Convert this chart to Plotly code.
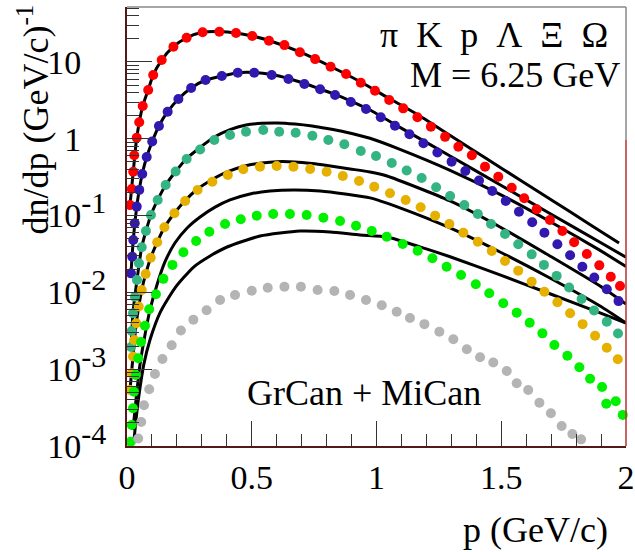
import plotly.graph_objects as go

# ---------------- data (p in GeV/c, dn/dp in (GeV/c)^-1) ----------------
# MiCan points
p_pi = [0.012,0.019,0.025,0.029,0.039,0.049,0.063,0.085,0.105,0.139,0.186,0.239,0.303,0.370,0.437,0.502,0.569,0.631,0.693,0.754,0.816,0.878,0.937,0.994,1.051,1.107,1.164,1.218,1.275,1.328,1.382,1.435,1.488,1.542,1.592,1.642,1.695,1.745,1.792,1.843,1.893,1.939,1.976]
y_pi = [0.137,0.222,0.373,0.610,1.03,1.64,2.67,4.32,6.78,10.6,15.8,20.7,24.4,24.8,23.9,21.8,18.9,16.6,13.4,10.9,8.69,6.98,5.37,4.23,3.20,2.49,1.91,1.44,1.06,0.789,0.610,0.434,0.321,0.231,0.168,0.121,0.0877,0.0630,0.0449,0.0316,0.0225,0.0160,0.0121]

p_K = [0.016,0.021,0.025,0.031,0.039,0.049,0.061,0.079,0.101,0.128,0.163,0.206,0.257,0.315,0.380,0.444,0.510,0.580,0.647,0.711,0.774,0.834,0.897,0.958,1.017,1.074,1.132,1.188,1.244,1.301,1.356,1.411,1.464,1.518,1.571,1.624,1.673,1.725,1.776,1.825,1.873,1.923,1.970]
y_K = [0.0177,0.0292,0.0481,0.0794,0.131,0.216,0.348,0.579,0.922,1.47,2.25,3.30,4.58,5.83,6.58,7.26,7.26,6.78,6.01,5.17,4.41,3.72,3.01,2.44,1.905,1.48,1.145,0.873,0.663,0.504,0.381,0.286,0.209,0.155,0.1125,0.0818,0.0598,0.0423,0.0304,0.0216,0.0156,0.0110,0.0077]

p_p = [0.016,0.019,0.024,0.032,0.040,0.048,0.059,0.076,0.096,0.123,0.155,0.195,0.239,0.293,0.350,0.413,0.477,0.546,0.610,0.676,0.743,0.807,0.871,0.937,0.998,1.061,1.121,1.181,1.239,1.295,1.352,1.406,1.459,1.515,1.568,1.622,1.671,1.722,1.772,1.822,1.872,1.923,1.968]
y_p = [0.00195,0.00314,0.00535,0.00879,0.0145,0.0239,0.0387,0.063,0.102,0.160,0.250,0.375,0.546,0.726,0.964,1.12,1.237,1.30,1.237,1.20,1.097,0.964,0.848,0.694,0.597,0.484,0.386,0.309,0.2335,0.180,0.137,0.105,0.0778,0.0575,0.0423,0.0313,0.0228,0.0164,0.0116,0.0082,0.0058,0.00415,0.00292]

p_L = [0.012,0.019,0.024,0.029,0.037,0.047,0.059,0.075,0.095,0.121,0.150,0.190,0.233,0.283,0.342,0.404,0.466,0.533,0.600,0.667,0.734,0.800,0.865,0.930,0.991,1.054,1.117,1.177,1.235,1.292,1.348,1.406,1.462,1.515,1.568,1.622,1.673,1.725,1.776,1.826,1.876,1.923,1.967]
y_L = [0.000536,0.000885,0.00146,0.0024,0.00396,0.00655,0.01074,0.01738,0.0283,0.0449,0.0705,0.1072,0.155,0.2156,0.276,0.338,0.401,0.434,0.443,0.434,0.405,0.373,0.328,0.2825,0.2377,0.195,0.1596,0.1282,0.0998,0.0778,0.0598,0.0457,0.0346,0.0256,0.0192,0.01377,0.0102,0.00743,0.00535,0.00386,0.00273,0.0019,0.001346]

p_Xi = [0.015,0.019,0.024,0.028,0.035,0.045,0.056,0.072,0.089,0.116,0.146,0.182,0.226,0.277,0.330,0.393,0.456,0.520,0.586,0.653,0.720,0.787,0.854,0.918,0.981,1.041,1.105,1.165,1.224,1.281,1.339,1.398,1.452,1.508,1.562,1.614,1.665,1.713,1.765,1.813,1.856,1.904,1.921,1.959,1.987]
y_Xi = [0.000114,0.000188,0.00031,0.000509,0.00084,0.00139,0.00226,0.00368,0.00603,0.00948,0.0150,0.0228,0.0333,0.0467,0.0617,0.0778,0.0895,0.0998,0.105,0.105,0.1018,0.094,0.0851,0.0738,0.063,0.0531,0.0427,0.0349,0.0278,0.0216,0.01687,0.01274,0.00973,0.00721,0.00545,0.00403,0.00293,0.00207,0.0015,0.00106,0.000752,0.000586,0.000356,0.000383,0.000254]

p_Om = [0.032,0.045,0.057,0.068,0.089,0.112,0.142,0.179,0.216,0.266,0.319,0.373,0.433,0.500,0.564,0.631,0.697,0.764,0.831,0.894,0.958,1.021,1.081,1.134,1.192,1.252,1.308,1.362,1.415,1.468,1.522,1.562,1.608,1.653,1.699,1.742,1.785,1.820]
y_Om = [0.000078,0.000125,0.000205,0.000339,0.000547,0.000866,0.00136,0.00205,0.00319,0.00441,0.00585,0.00796,0.00925,0.01052,0.0115,0.01186,0.01186,0.01074,0.01042,0.00925,0.00796,0.00679,0.00561,0.00464,0.00386,0.00308,0.00245,0.00182,0.00143,0.00122,0.000948,0.000655,0.000536,0.000366,0.000267,0.000182,0.000143,0.000122]

# GrCan curves
lp_pi = [0.012,0.025,0.039,0.063,0.085,0.105,0.139,0.186,0.239,0.303,0.370,0.437,0.502,0.569,0.693,0.816,0.937,1.051,1.164,1.275,1.375,1.507,1.643,1.776,1.896,1.972]
ly_pi = [0.137,0.373,1.03,2.67,4.32,6.78,10.6,15.8,20.7,24.4,24.9,23.9,21.8,19.05,13.5,8.74,5.49,3.35,2.07,1.215,0.755,0.402,0.2105,0.112,0.0632,0.0440]

lp_K = [0.016,0.025,0.039,0.049,0.061,0.079,0.101,0.128,0.163,0.206,0.257,0.315,0.380,0.444,0.510,0.580,0.647,0.711,0.774,0.834,0.897,0.974,1.094,1.295,1.495,1.695,1.896,2.0]
ly_K = [0.0177,0.0481,0.131,0.216,0.348,0.579,0.922,1.47,2.25,3.30,4.58,5.83,6.58,7.26,7.30,6.87,6.10,5.25,4.45,3.78,3.10,2.37,1.41,0.597,0.252,0.1064,0.0449,0.0287]

lp_p = [0.016,0.024,0.040,0.059,0.076,0.096,0.123,0.155,0.195,0.239,0.293,0.350,0.413,0.477,0.541,0.601,0.673,0.742,0.802,0.874,0.974,1.094,1.295,1.495,1.695,1.896,2.0]
ly_p = [0.00195,0.00535,0.0145,0.0387,0.063,0.102,0.160,0.250,0.375,0.554,0.771,1.055,1.32,1.51,1.59,1.61,1.56,1.468,1.36,1.226,1.015,0.728,0.388,0.189,0.0839,0.0352,0.0217]

lp_L = [0.012,0.024,0.037,0.059,0.075,0.095,0.121,0.150,0.190,0.233,0.283,0.342,0.401,0.473,0.541,0.601,0.673,0.742,0.802,0.894,0.974,1.042,1.295,1.495,1.695,1.896,2.0]
ly_L = [0.000536,0.00146,0.00396,0.01074,0.01738,0.0283,0.0449,0.0705,0.1072,0.157,0.222,0.295,0.370,0.443,0.484,0.503,0.499,0.476,0.449,0.405,0.370,0.328,0.155,0.0711,0.0298,0.0121,0.00706]

lp_Xi = [0.024,0.036,0.052,0.072,0.092,0.120,0.152,0.192,0.241,0.293,0.353,0.413,0.493,0.573,0.669,0.774,0.874,0.974,1.094,1.295,1.495,1.695,1.896,2.0]
ly_Xi = [0.000162,0.000397,0.00114,0.00279,0.0059,0.0125,0.0249,0.044,0.069,0.096,0.129,0.160,0.191,0.209,0.216,0.209,0.191,0.170,0.126,0.069,0.0336,0.0154,0.00665,0.0040]

lp_Om = [0.027,0.036,0.048,0.067,0.092,0.134,0.192,0.267,0.333,0.401,0.533,0.693,0.814,0.934,1.042,1.174,1.295,1.495,1.695,1.896,2.0]
ly_Om = [0.000109,0.000218,0.000461,0.00114,0.0024,0.00556,0.0114,0.0214,0.0298,0.039,0.0542,0.063,0.0612,0.0559,0.0526,0.0391,0.0291,0.0169,0.0096,0.00542,0.00397]

x_ticks = [0, 0.5, 1, 1.5, 2]
x_ticktext = ["0", "0.5", "1", "1.5", "2"]
y_ticks = [1e-4, 1e-3, 1e-2, 1e-1, 1, 10]
y_exponents = ["-4", "-3", "-2", "-1", None, None]
y_bases = ["10", "10", "10", "10", "1", "10"]

EXP = '<sup><span style="font-size:30px">{}</span></sup>'
GHOST = '<sup><span style="font-size:30px;color:rgba(0,0,0,0)">-1</span></sup>'
y_ticktext = [b + (EXP.format(e) if e else GHOST) for b, e in zip(y_bases, y_exponents)]

# ---------------- figure ----------------
FONT = "Liberation Serif"
fig = go.Figure()

curves = [(lp_pi, ly_pi), (lp_K, ly_K), (lp_p, ly_p), (lp_L, ly_L), (lp_Xi, ly_Xi), (lp_Om, ly_Om)]
for xs, ys in curves:
    fig.add_trace(go.Scatter(x=xs, y=ys, mode="lines",
                             line=dict(color="black", width=3, shape="spline", smoothing=0.6),
                             hoverinfo="skip"))

dots = [(p_pi, y_pi, "#ff0000"), (p_K, y_K, "#3318b0"), (p_p, y_p, "#33b482"),
        (p_L, y_L, "#e6b000"), (p_Xi, y_Xi, "#00f000"), (p_Om, y_Om, "#b4b4b4")]
for xs, ys, c in dots:
    fig.add_trace(go.Scatter(x=xs, y=ys, mode="markers", cliponaxis=False,
                             marker=dict(size=10, color=c, line=dict(width=0))))

minor_y = [k * 10.0 ** e for e in range(-4, 2) for k in range(2, 10) if k * 10.0 ** e < 52]

fig.update_layout(
    width=635, height=552,
    margin=dict(l=127, r=9, t=7, b=106, autoexpand=False),
    paper_bgcolor="white", plot_bgcolor="white",
    showlegend=False,
    font=dict(family=FONT, color="black"),
    xaxis=dict(range=[0, 2], tickmode="array", tickvals=x_ticks, ticktext=x_ticktext,
               automargin=False,
               ticks="inside", ticklen=25, tickwidth=1, tickcolor="#333",
               minor=dict(ticks="inside", ticklen=12, dtick=0.1, tickcolor="#333", tickwidth=1),
               showgrid=False, zeroline=False, showline=True, linecolor="#551818", linewidth=2,
               tickfont=dict(family=FONT, size=34, color="black"), ticklabelstandoff=0),
    yaxis=dict(type="log", range=[-4, 1.716], tickmode="array", tickvals=y_ticks, ticktext=y_ticktext,
               automargin=False,
               ticks="inside", ticklen=25, tickwidth=1, tickcolor="#333",
               minor=dict(ticks="inside", ticklen=12, tickmode="array", tickvals=minor_y,
                          tickcolor="#333", tickwidth=1),
               showgrid=False, zeroline=False, showline=True, linecolor="#551818", linewidth=2,
               tickfont=dict(family=FONT, size=34, color="black"), ticklabelstandoff=12),
    shapes=[
        dict(type="line", xref="paper", yref="paper", x0=0, x1=1, y0=1, y1=1,
             line=dict(color="#888888", width=1.5)),
        dict(type="line", xref="paper", yref="paper", x0=1, x1=1, y0=0.697, y1=1,
             line=dict(color="#888888", width=1.5)),
        dict(type="line", xref="paper", yref="paper", x0=1, x1=1, y0=0, y1=0.697,
             line=dict(color="#b83030", width=1.5)),
    ],
    annotations=[
        dict(text="dn/dp (GeV/c)<sup>-1</sup>", textangle=-90, xref="paper", yref="paper",
             x=-0.187, y=0.743, xanchor="center", yanchor="middle", showarrow=False,
             font=dict(family=FONT, size=36, color="black")),
        dict(text="p (GeV/c)", xref="paper", yref="paper", x=0.968, y=-0.191,
             xanchor="right", yanchor="middle", showarrow=False,
             font=dict(family=FONT, size=36, color="black")),
        dict(text="π\u00a0\u00a0K\u00a0\u00a0p\u00a0\u00a0Λ\u00a0\u00a0Ξ\u00a0\u00a0Ω", xref="paper", yref="paper",
             x=0.968, y=0.936, xanchor="right", yanchor="middle", showarrow=False,
             font=dict(family=FONT, size=36, color="black")),
        dict(text="M = 6.25 GeV", xref="paper", yref="paper", x=0.992, y=0.845,
             xanchor="right", yanchor="middle", showarrow=False,
             font=dict(family=FONT, size=36, color="black")),
        dict(text="GrCan + MiCan", xref="paper", yref="paper", x=0.475, y=0.121,
             xanchor="center", yanchor="middle", showarrow=False,
             font=dict(family=FONT, size=36, color="black")),
    ],
)

fig.write_html("out.html", config={"displayModeBar": False},
               post_script="document.body.style.margin='0';document.body.style.padding='0';")
